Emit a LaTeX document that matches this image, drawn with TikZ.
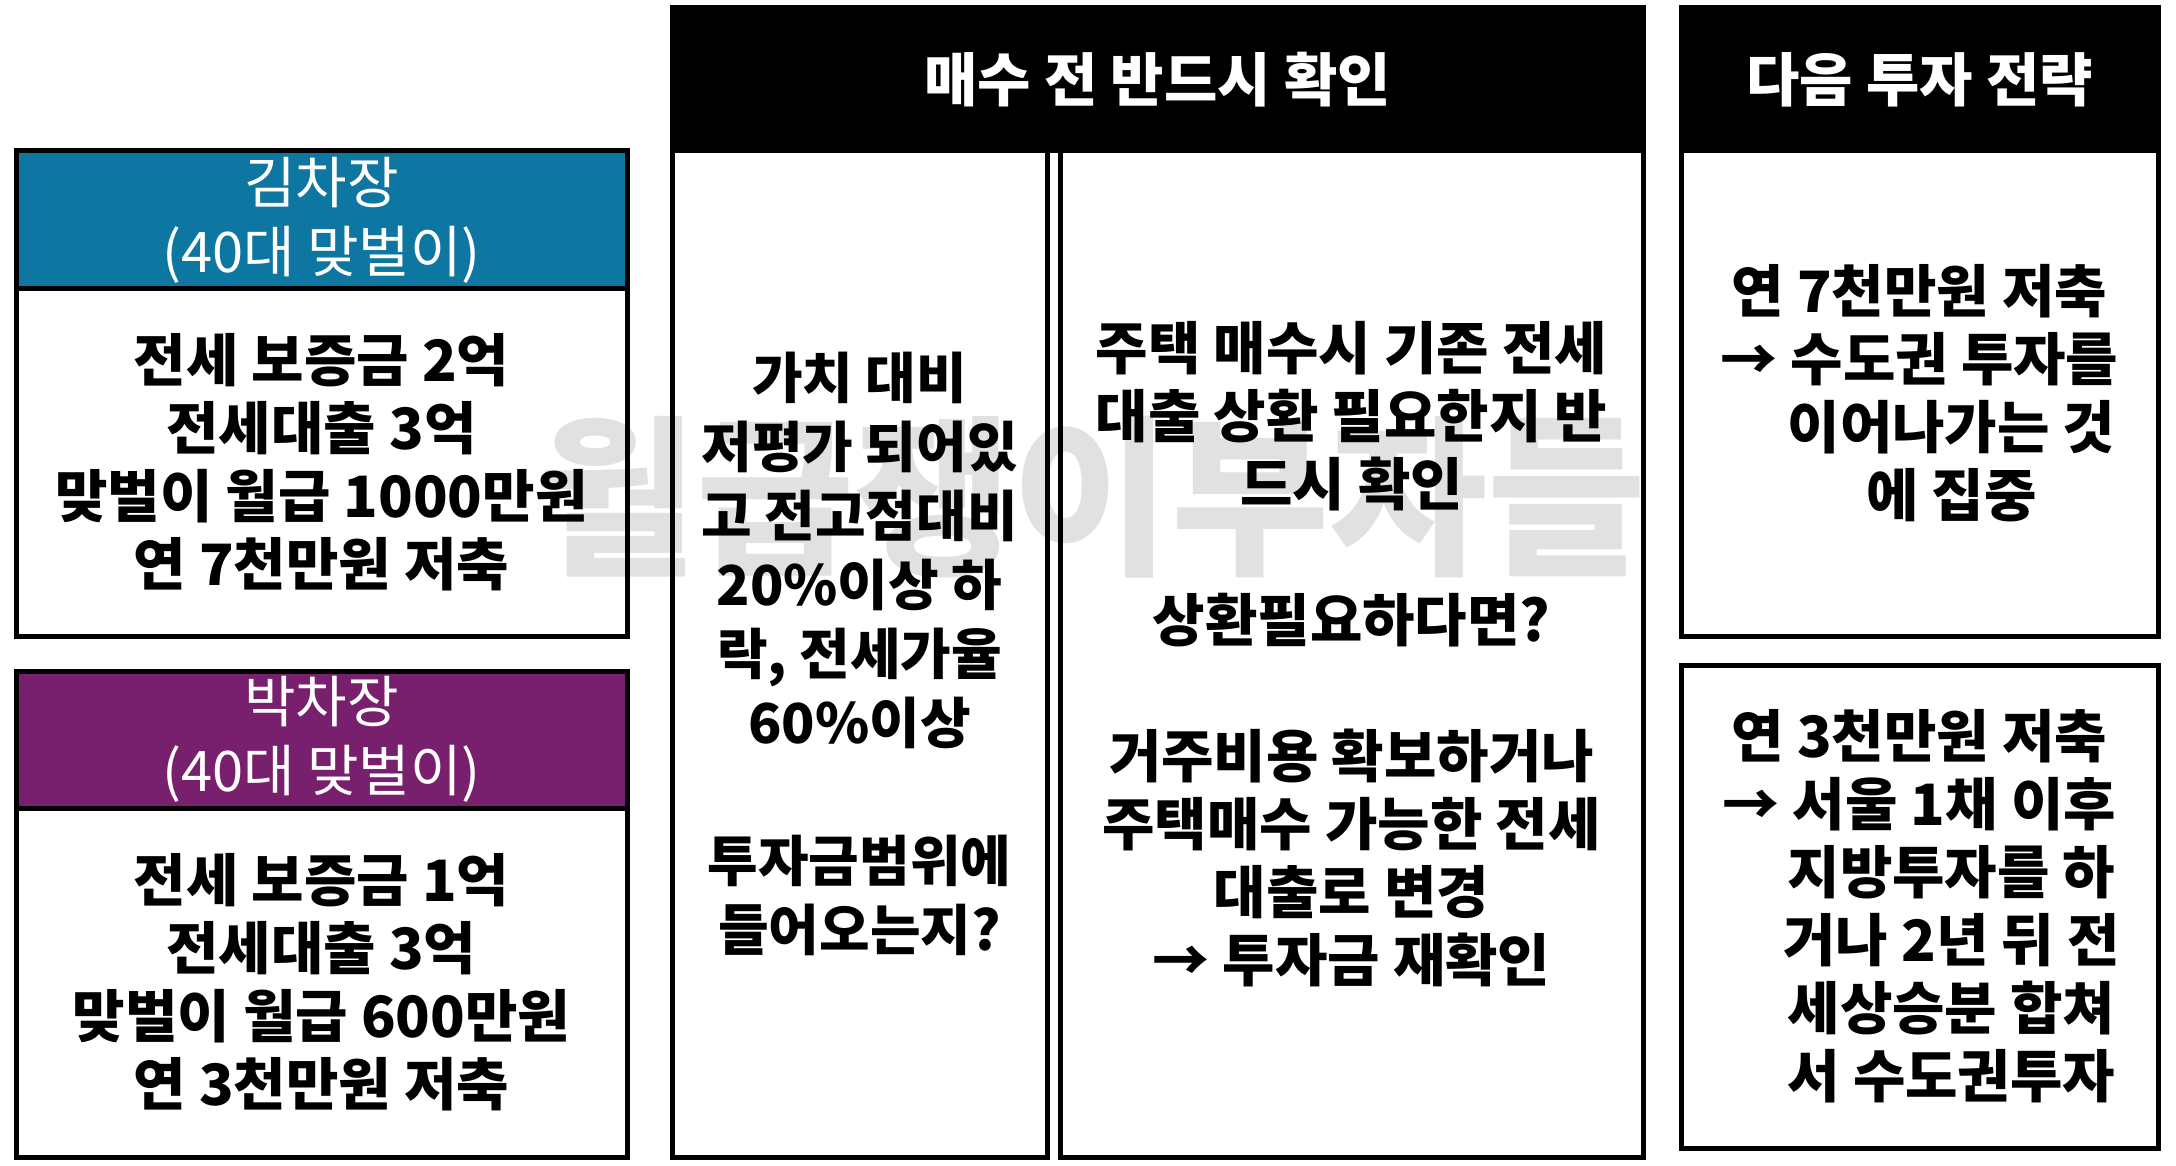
\documentclass[tikz,border=0pt]{standalone}
\usepackage{fontspec}
\setmainfont{Noto Sans CJK KR}
\definecolor{kimc}{HTML}{0D76A1}
\definecolor{parkc}{HTML}{781F6D}
\definecolor{wmgray}{HTML}{E1E1E1}
\begin{document}
\begin{tikzpicture}[x=1pt,y=-1pt,
  body/.style={draw=black, line width=5pt, inner sep=0pt, align=center,
    font=\fontsize{57pt}{68pt}\selectfont\bfseries},
  narrowbody/.style={body, font=\fontsize{55pt}{69pt}\selectfont\bfseries},
  colhead/.style={draw=black, line width=5pt, inner sep=0pt, align=center, text=white,
    font=\fontsize{56pt}{69pt}\selectfont},
  blackhead/.style={draw=black, fill=black, line width=5pt, inner sep=0pt, align=center, text=white,
    font=\fontsize{58pt}{69pt}\selectfont\bfseries},
  watermark/.style={text=wmgray, inner sep=0pt, font=\fontsize{172pt}{172pt}\selectfont\bfseries}
]
\useasboundingbox (0,0) rectangle (2176,1166);

% watermark (behind everything)
\node[watermark] (wm) at (1092,497) {월급쟁이부자들};

% left column
\node[colhead, fill=kimc, minimum width=611pt, minimum height=138pt] (kimH) at (321.5,220) {김차장\\(40대 맞벌이)};
\node[body, minimum width=611pt, minimum height=347pt] (kimB) at (321.5,462.5)
  {전세 보증금 2억\\전세대출 3억\\맞벌이 월급 1000만원\\연 7천만원 저축};
\node[colhead, fill=parkc, minimum width=611pt, minimum height=137pt] (parkH) at (321.5,739.5) {박차장\\(40대 맞벌이)};
\node[body, minimum width=611pt, minimum height=349pt] (parkB) at (321.5,982.5)
  {전세 보증금 1억\\전세대출 3억\\맞벌이 월급 600만원\\연 3천만원 저축};

% middle column
\node[blackhead, minimum width=971pt, minimum height=143pt] (midH) at (1157.5,79.5) {매수 전 반드시 확인};
\node[narrowbody, minimum width=375pt, minimum height=1006pt] (midL) at (859.5,654)
  {가치 대비\\저평가 되어있\\고 전고점대비\\20\%이상 하\\락, 전세가율\\60\%이상\\~\\투자금범위에\\들어오는지?};
\node[body, minimum width=583pt, minimum height=1006pt] (midR) at (1351.5,654)
  {주택 매수시 기존 전세\\대출 상환 필요한지 반\\드시 확인\\~\\상환필요하다면?\\~\\거주비용 확보하거나\\주택매수 가능한 전세\\대출로 변경\\→ 투자금 재확인};

% right column
\node[blackhead, minimum width=477pt, minimum height=143pt] (rH) at (1919.5,79.5) {다음 투자 전략};
\node[body, minimum width=477pt, minimum height=485pt] (rB1) at (1919.5,393.5)
  {연 7천만원 저축\\→ 수도권 투자를\\\hspace*{64pt}이어나가는 것\\\hspace*{64pt}에 집중};
\node[body, minimum width=477pt, minimum height=483pt] (rB2) at (1919.5,906.5)
  {연 3천만원 저축\\→ 서울 1채 이후\\\hspace*{64pt}지방투자를 하\\\hspace*{64pt}거나 2년 뒤 전\\\hspace*{64pt}세상승분 합쳐\\\hspace*{64pt}서 수도권투자};
\end{tikzpicture}
\end{document}
